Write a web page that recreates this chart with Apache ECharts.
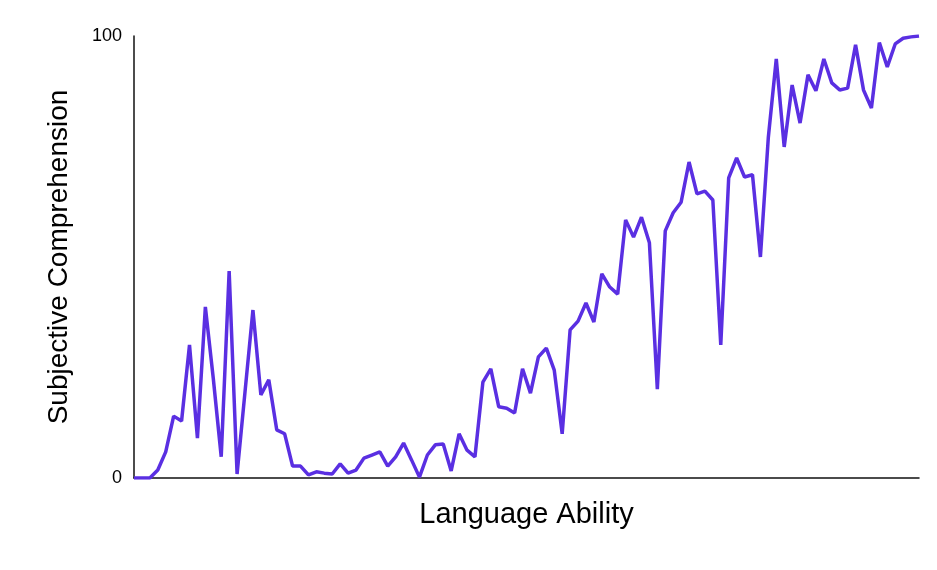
<!DOCTYPE html>
<html>
<head>
<meta charset="utf-8">
<script src="https://cdn.jsdelivr.net/npm/echarts@6/dist/echarts.min.js"></script>
<style>
  html, body { margin: 0; padding: 0; background: #fff; }
  #chart { width: 937px; height: 570px; }
</style>
</head>
<body>
<div id="chart"></div>
<script>
// data, 100 evenly spaced points
var comprehension = [
    0, 0, 0, 1.8, 5.9, 14.0, 12.9, 30.1, 9.0, 38.7,
    22.5, 4.8, 46.8, 0.9, 19.5, 38.0, 18.8, 22.2, 10.9, 10.0,
    2.7, 2.7, 0.7, 1.4, 1.1, 0.9, 3.2, 1.1, 1.8, 4.5,
    5.2, 5.9, 2.7, 4.8, 7.9, 4.1, 0.2, 5.2, 7.5, 7.7,
    1.6, 10.0, 6.3, 4.8, 21.7, 24.7, 16.1, 15.8, 14.7, 24.7,
    19.2, 27.4, 29.4, 24.4, 10.0, 33.5, 35.5, 39.6, 35.3, 46.2,
    43.2, 41.6, 58.4, 54.5, 59.0, 53.2, 20.1, 55.9, 60.0, 62.4,
    71.5, 64.3, 64.9, 62.9, 30.1, 67.9, 72.4, 68.1, 68.6, 50.0,
    77.1, 94.8, 74.9, 88.9, 80.3, 91.2, 87.6, 94.8, 89.4, 87.8,
    88.2, 98.0, 87.8, 83.7, 98.5, 93.0, 98.2, 99.5, 99.8, 100
];
var abilityLevels = comprehension.map(function (v, i) { return i; });
var yTicks = [0, 100];

var chartExecute = function () {

    var lineChart = function (id) {
        var myChart = echarts.init(document.getElementById(id));
        var font = 'Liberation Sans, Arial, sans-serif';

        var option = {
            animation: false,
            grid: {
                left: 134,
                right: 18,
                top: 36,
                bottom: 92
            },
            xAxis: {
                type: 'category',
                boundaryGap: false,
                data: abilityLevels,
                name: 'Language Ability',
                nameLocation: 'middle',
                nameGap: 22,
                nameTextStyle: {
                    fontFamily: font,
                    fontSize: 29,
                    color: '#000'
                },
                axisTick: { show: false },
                axisLabel: { show: false },
                splitLine: { show: false },
                axisLine: {
                    lineStyle: { color: '#111', width: 1.5 }
                }
            },
            yAxis: {
                type: 'value',
                min: yTicks[0],
                max: yTicks[1],
                interval: yTicks[1] - yTicks[0],
                name: 'Subjective Comprehension',
                nameLocation: 'middle',
                nameGap: 61,
                nameTextStyle: {
                    fontFamily: font,
                    fontSize: 28,
                    color: '#000'
                },
                axisTick: { show: false },
                splitLine: { show: false },
                axisLabel: {
                    margin: 12,
                    fontFamily: font,
                    fontSize: 18,
                    color: '#000'
                },
                axisLine: {
                    show: true,
                    lineStyle: { color: '#111', width: 1.5 }
                }
            },
            series: [{
                name: 'Subjective Comprehension',
                type: 'line',
                data: comprehension,
                symbol: 'none',
                lineStyle: {
                    color: '#5a2fe2',
                    width: 3.5
                },
                z: 1
            }]
        };

        myChart.setOption(option);
    };

    return {
        lineChart: lineChart
    };
}();

chartExecute.lineChart('chart');
</script>
</body>
</html>
